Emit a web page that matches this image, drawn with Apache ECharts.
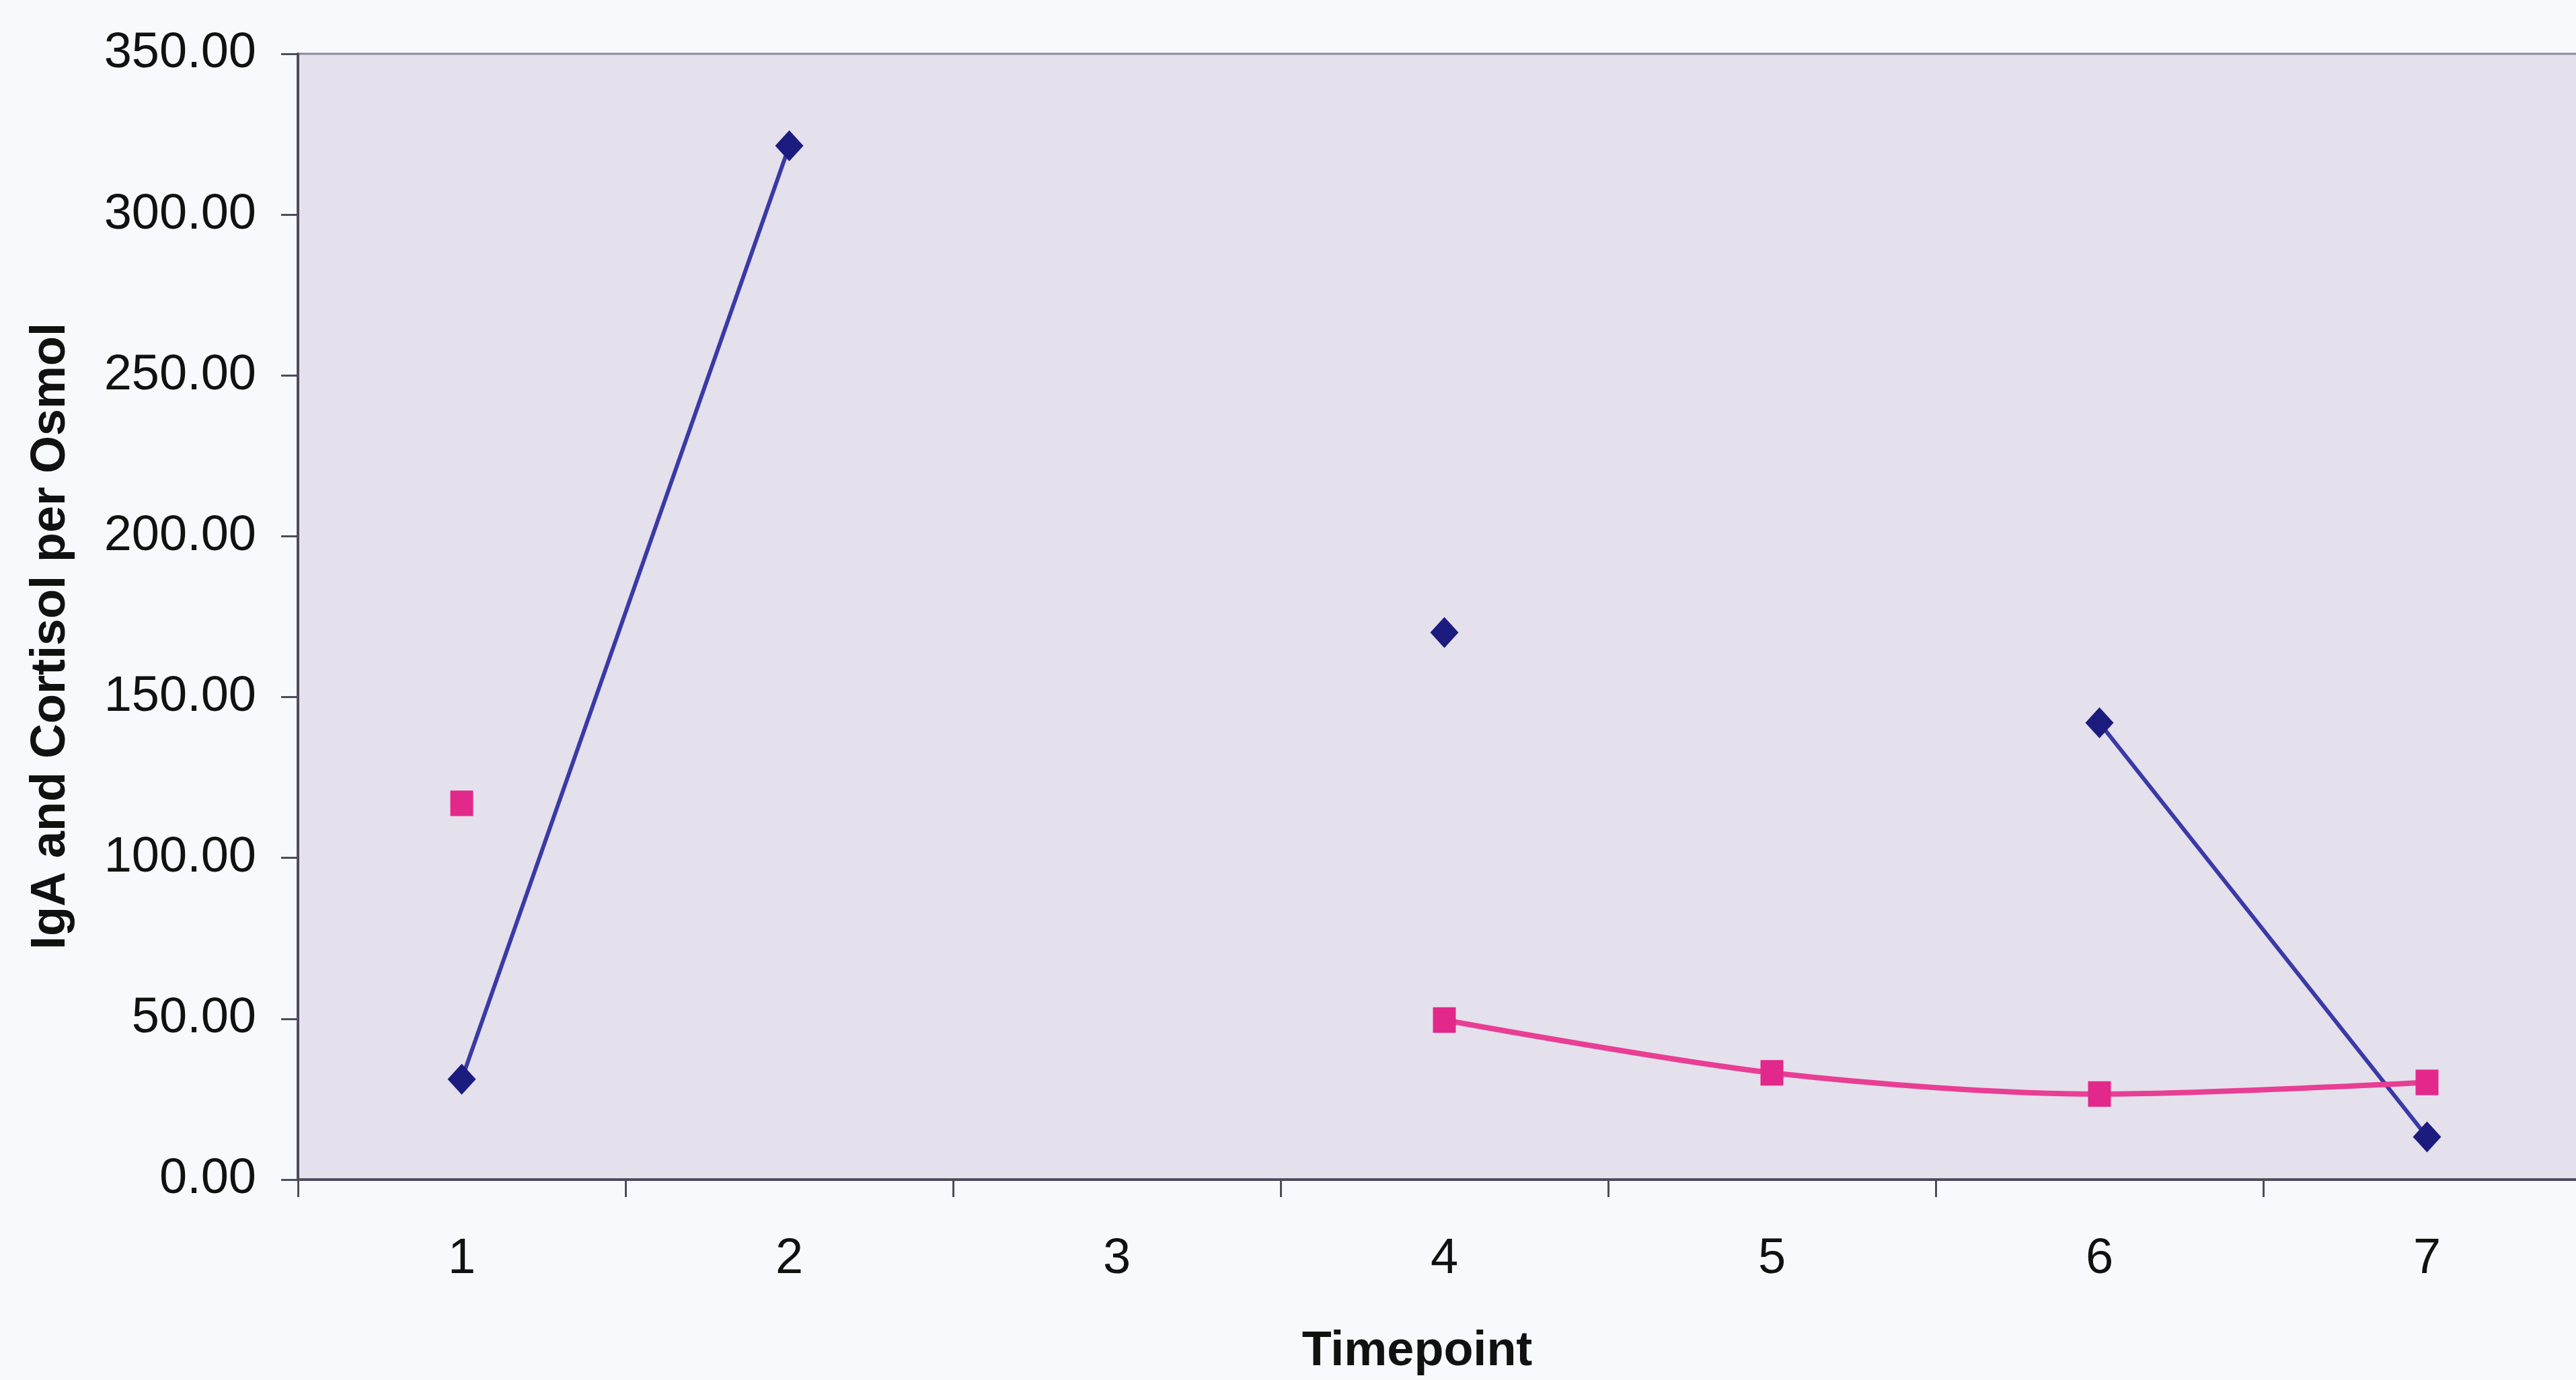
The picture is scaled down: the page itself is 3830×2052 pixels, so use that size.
<!DOCTYPE html>
<html>
<head>
<meta charset="utf-8">
<script src="https://cdn.jsdelivr.net/npm/echarts@6/dist/echarts.min.js"></script>
<style>
html,body{margin:0;padding:0;background:#f7f9fc;overflow:hidden;}
#c{width:3870px;height:2052px;}
</style>
</head>
<body>
<div id="c"></div>
<script>
var categories = ['1', '2', '3', '4', '5', '6', '7'];
var igaValues = [31.2, 321.4, null, 170.1, null, 142.0, 13.3];
var cortisolValues = [117.0, null, null, 49.6, 33.2, 26.6, 30.2];
var yMin = 0, yMax = 350, yStep = 50;
var xTitle = 'Timepoint';
var yTitle = 'IgA and Cortisol per Osmol';

var chart = echarts.init(document.getElementById('c'), null, {renderer: 'canvas'});
var font = '"Liberation Sans", Arial, sans-serif';
chart.setOption({
  backgroundColor: '#f7f9fc',
  animation: false,
  grid: {
    left: 443, top: 80, width: 3409, height: 1674,
    show: true, backgroundColor: '#e4e0ec', borderColor: '#8e8a9c', borderWidth: 3
  },
  xAxis: {
    type: 'category',
    data: categories,
    boundaryGap: true,
    axisLine: {lineStyle: {color: '#4f4b5e', width: 4}},
    axisTick: {show: true, length: 26, inside: false, lineStyle: {color: '#4f4b5e', width: 3}},
    axisLabel: {fontFamily: font, fontSize: 74, color: '#111', margin: 82}
  },
  yAxis: {
    type: 'value',
    min: yMin, max: yMax, interval: yStep,
    splitLine: {show: false},
    axisLine: {show: true, lineStyle: {color: '#4f4b5e', width: 4}},
    axisTick: {show: true, length: 25, lineStyle: {color: '#4f4b5e', width: 3}},
    axisLabel: {fontFamily: font, fontSize: 74, color: '#111', margin: 62,
      formatter: function (v) { return v.toFixed(2); }}
  },
  graphic: [
    {type: 'text', x: 2107, y: 2046, style: {text: xTitle, font: 'bold 72px "Liberation Sans", Arial, sans-serif',
      fill: '#111', textAlign: 'center', textVerticalAlign: 'bottom'}},
    {type: 'text', x: 76, y: 946, rotation: Math.PI / 2, style: {text: yTitle,
      font: 'bold 72px "Liberation Sans", Arial, sans-serif', fill: '#111', textAlign: 'center', textVerticalAlign: 'middle'}}
  ],
  series: [
    {
      name: 'IgA', type: 'line', data: igaValues, connectNulls: false,
      symbol: 'diamond', symbolSize: [42, 46],
      itemStyle: {color: '#1c1c7e'},
      lineStyle: {color: '#3a3aa6', width: 6},
      z: 2
    },
    {
      name: 'Cortisol', type: 'line', data: cortisolValues, connectNulls: false,
      smooth: 0.3,
      symbol: 'rect', symbolSize: [34, 38],
      itemStyle: {color: '#e2288a'},
      lineStyle: {color: '#e83e94', width: 8},
      z: 3
    }
  ]
});
</script>
</body>
</html>
